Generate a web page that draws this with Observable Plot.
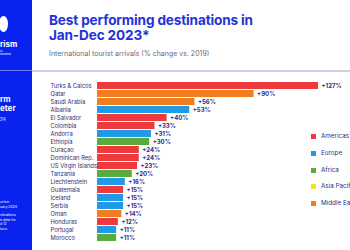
<!DOCTYPE html>
<html>
<head>
<meta charset="utf-8">
<script src="https://cdn.jsdelivr.net/npm/d3@7"></script>
<script src="https://cdn.jsdelivr.net/npm/@observablehq/plot@0.6"></script>
<style>
  html, body { margin: 0; padding: 0; background: #fff; }
  body { width: 350px; height: 250px; overflow: hidden; position: relative; font-family: Inter, "Noto Sans", sans-serif; }
  #side { position: absolute; left: 0; top: 0; width: 32px; height: 250px; background: #0a22f0; overflow: hidden; color: #fff; }
  #side div { position: absolute; white-space: nowrap; }
  .t1 { position: absolute; left: 49px; top: 13px; font-weight: 700; font-size: 13.6px; line-height: 15px; color: #2433d8; white-space: nowrap; letter-spacing: -0.15px; }
  .sub { position: absolute; left: 49px; top: 49px; font-size: 7px; color: #6a6a7a; white-space: nowrap; }
  .rule { position: absolute; left: 32px; top: 70px; width: 318px; height: 1.5px; background: #ccd0e2; }
  #chart { position: absolute; left: 0; top: 0; }
  .leg { position: absolute; left: 311px; width: 39px; overflow: hidden; font-size: 6.3px; color: #2b2f8a; white-space: nowrap; }
  .leg span { display: inline-block; width: 5px; height: 5px; margin-right: 5px; vertical-align: -0.5px; }
</style>
</head>
<body>
<div id="side">
  <div style="left:-1px;top:16px;width:9px;height:16px;border-radius:50%;background:#fff;"></div>
  <div style="left:0;top:39px;font-weight:700;font-size:8px;">rism</div>
  <div style="left:0;top:50px;font-size:2.6px;line-height:3px;">ld<br>anization</div>
  <div style="left:0;top:70px;width:32px;height:1px;background:#6d7ff5;"></div>
  <div style="left:0;top:95px;font-weight:700;font-size:8px;line-height:9px;">rm<br>eter</div>
  <div style="left:0;top:117px;font-size:4.5px;">24</div>
  <div style="left:0;top:200px;font-size:3.5px;line-height:4.5px;">urism<br>uary 2024</div>
  <div style="left:0;top:213px;font-size:3.5px;line-height:4.5px;">stinations<br>e data for<br>d 12<br>ions.</div>
</div>
<div class="t1">Best performing destinations in<br>Jan-Dec 2023*</div>
<div class="sub">International tourist arrivals (% change vs. 2019)</div>
<div class="rule"></div>
<div id="chart"></div>
<div id="legend"></div>
<script>
const countries = ["Turks & Caicos","Qatar","Saudi Arabia","Albania","El Salvador","Colombia","Andorra","Ethiopia","Curaçao","Dominican Rep.","US Virgin Islands","Tanzania","Liechtenstein","Guatemala","Iceland","Serbia","Oman","Honduras","Portugal","Morocco"];
const changes = [127,90,56,53,40,33,31,30,24,24,23,20,16,15,15,15,14,12,11,11];
const regions = ["Americas","Middle East","Middle East","Europe","Americas","Americas","Europe","Africa","Americas","Americas","Americas","Africa","Europe","Americas","Europe","Europe","Middle East","Americas","Europe","Africa"];
const regionNames = ["Americas","Europe","Africa","Asia Pacific","Middle East"];
const regionColors = ["#ee3a3c","#1f9ae6","#5aab3e","#f3e21d","#f17d1f"];

const data = countries.map((c, i) => ({country: c, change: changes[i], region: regions[i]}));

const chart = Plot.plot({
  width: 350,
  height: 250,
  marginTop: 79,
  marginBottom: 7,
  marginLeft: 97,
  marginRight: 32,
  style: {background: "transparent", fontFamily: "Inter, 'Noto Sans', sans-serif"},
  x: {domain: [0, 127], axis: null},
  y: {domain: countries, padding: 0.18, axis: null},
  color: {domain: regionNames, range: regionColors},
  marks: [
    Plot.barX(data, {x: "change", y: "country", fill: "region"}),
    Plot.text(data, {x: "change", y: "country", text: d => "+" + d.change + "%", textAnchor: "start", dx: 3, fontSize: 6, fontWeight: 700, fill: "#2b2f8a"}),
    Plot.axisY({anchor: "left", tickSize: 0, tickPadding: 0, textAnchor: "start", dx: -47, fontSize: 5.8, color: "#2b2f6e", label: null})
  ]
});
document.getElementById("chart").appendChild(chart);

const legTops = [132, 149, 166, 182, 199];
const leg = document.getElementById("legend");
regionNames.forEach((r, i) => {
  const d = document.createElement("div");
  d.className = "leg";
  d.style.top = legTops[i] + "px";
  d.innerHTML = `<span style="background:${regionColors[i]}"></span>${r}`;
  leg.appendChild(d);
});
</script>
</body>
</html>
